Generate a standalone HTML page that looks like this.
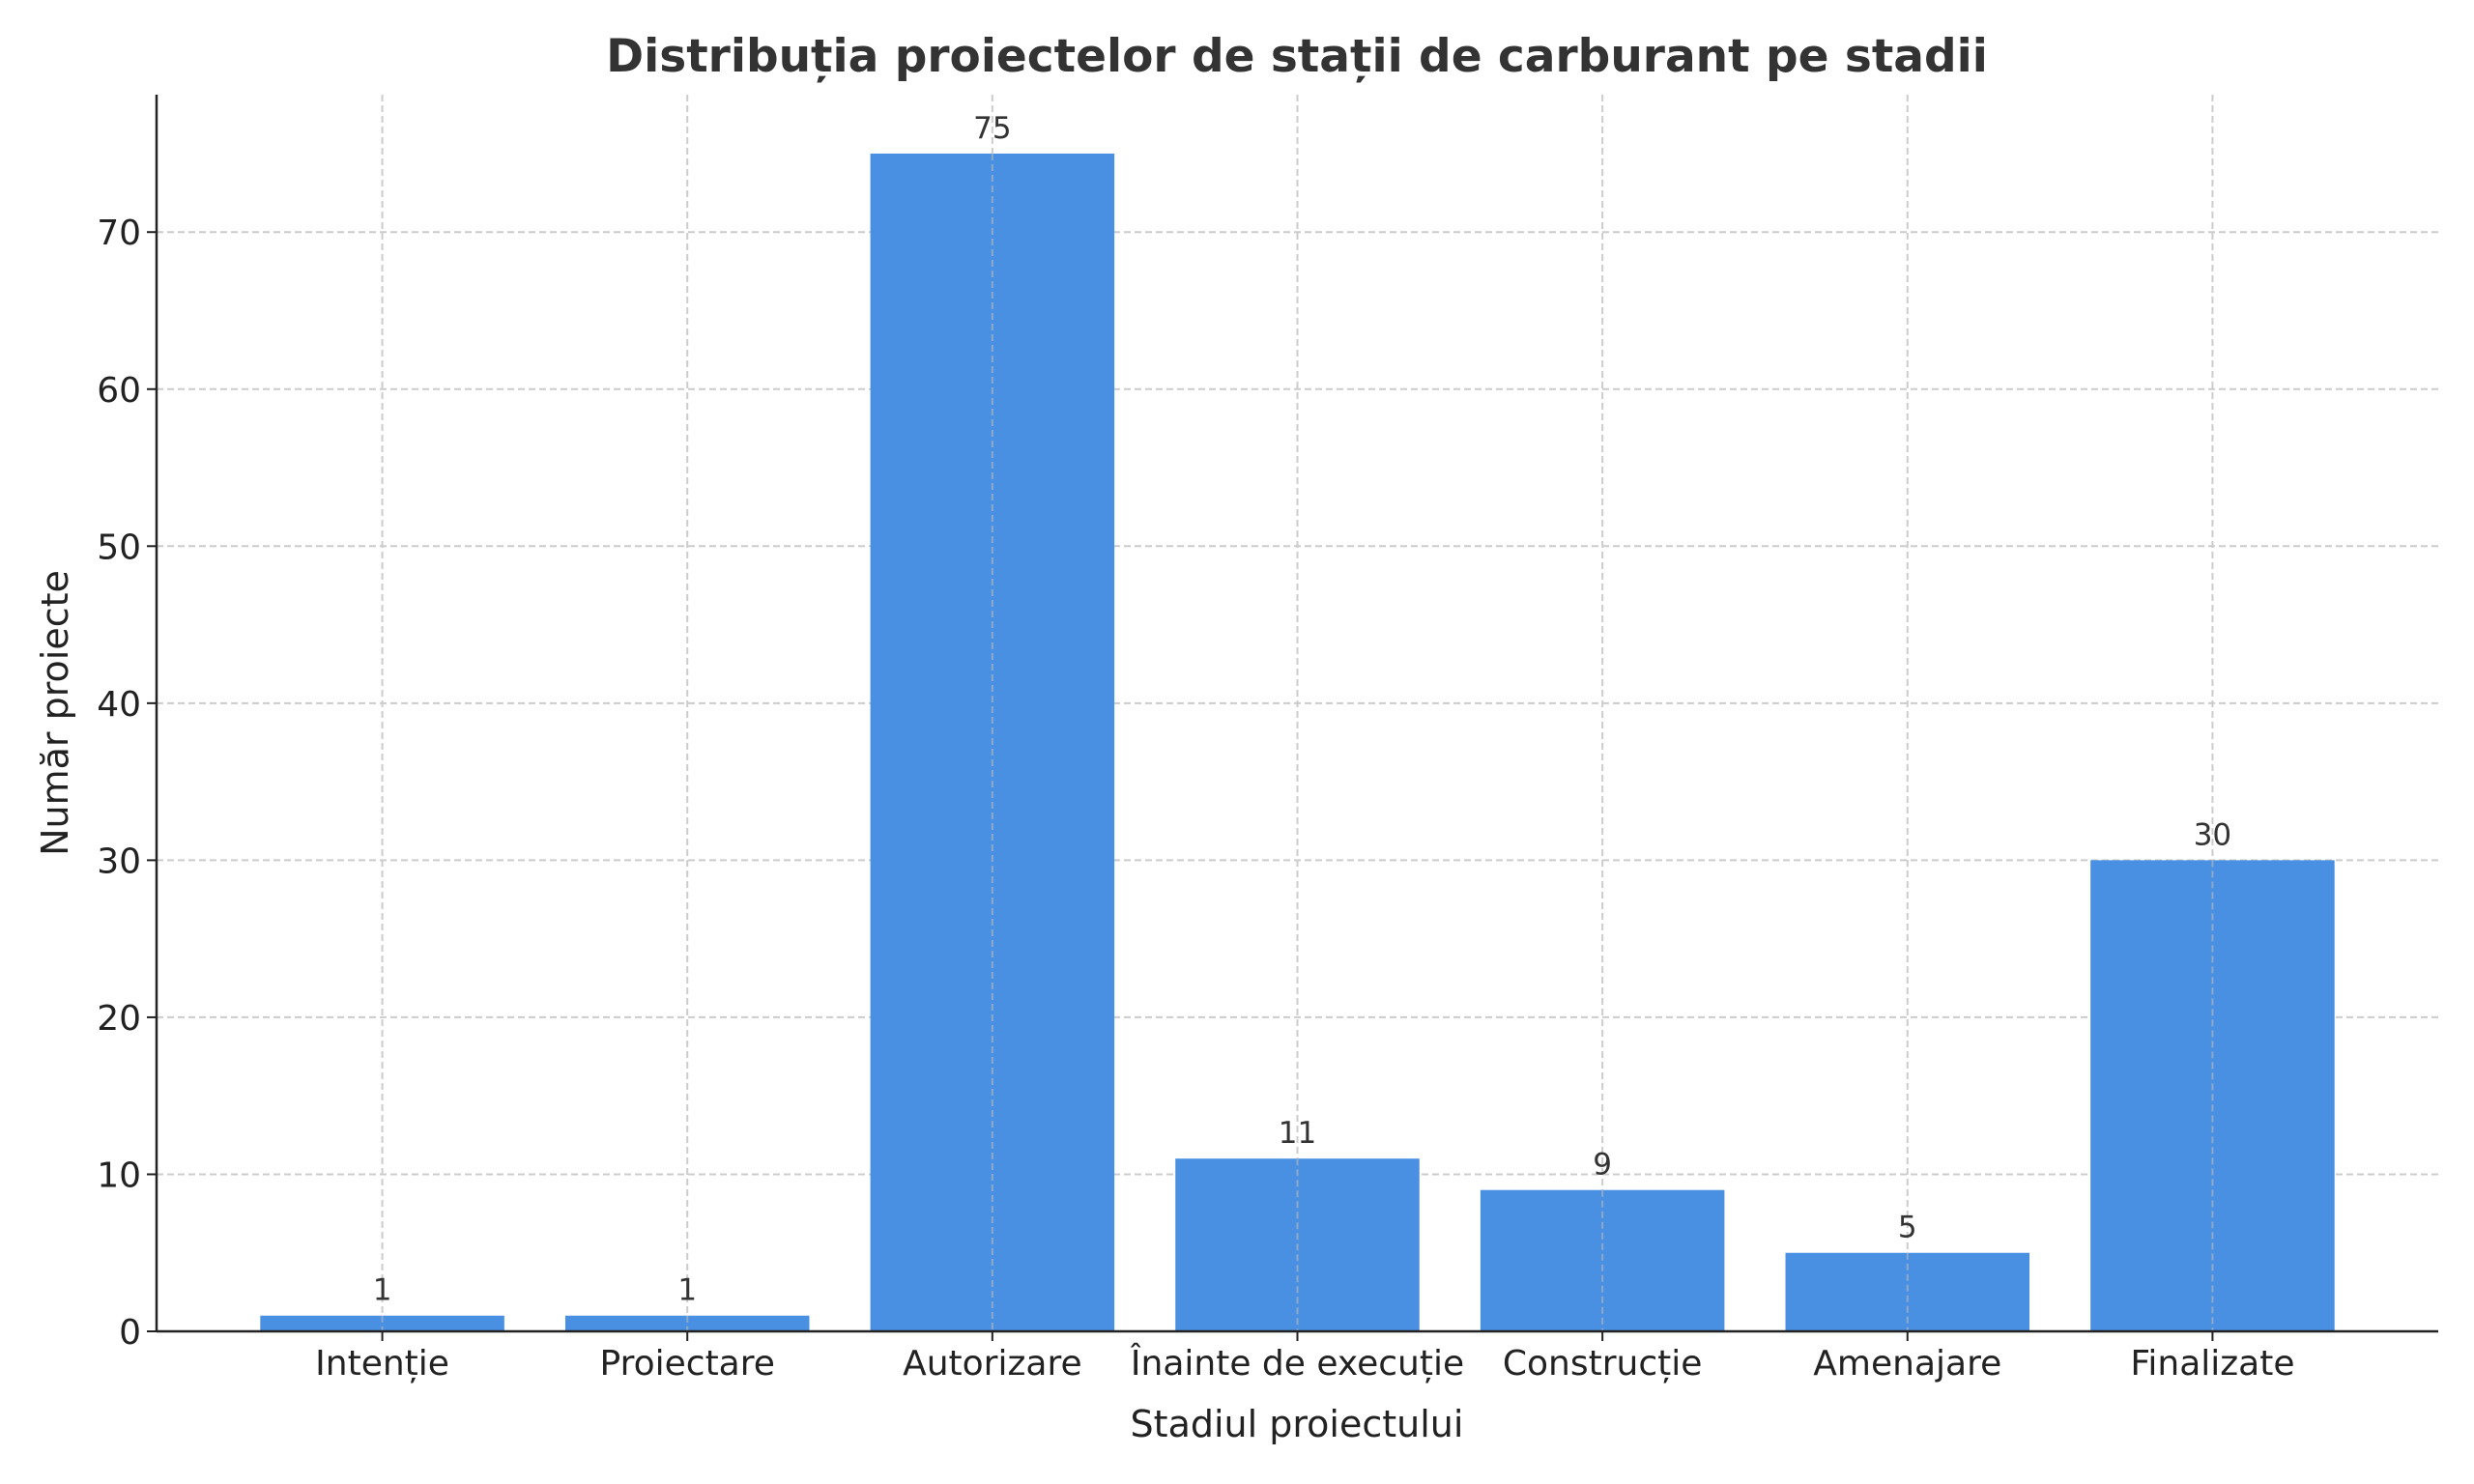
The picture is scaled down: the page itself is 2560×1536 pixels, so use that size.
<!DOCTYPE html>
<html><head><meta charset="utf-8"><style>
body{margin:0;background:#fff}
svg{display:block;font-family:"DejaVu Sans","Liberation Sans",sans-serif}
</style></head><body>
<svg id="chart" width="2560" height="1536" viewBox="0 0 2560 1536">
<text x="1342" y="74" text-anchor="middle" font-size="47" font-weight="bold" fill="#333">Distribuția proiectelor de stații de carburant pe stadii</text>
<g id="grid"></g><g id="bars"></g><g id="axes"></g>
<text x="1342" y="1487" text-anchor="middle" font-size="38" fill="#222">Stadiul proiectului</text>
<text transform="translate(70,738) rotate(-90)" text-anchor="middle" font-size="38" fill="#222">Număr proiecte</text>
</svg>
<script>
const categories=["Intenție","Proiectare","Autorizare","Înainte de execuție","Construcție","Amenajare","Finalizate"];
const values=[1,1,75,11,9,5,30];
const yTicks=[0,10,20,30,40,50,60,70];
const NS="http://www.w3.org/2000/svg";
const L=162,R=2523,T=98,B=1378;
const xMin=-0.74,xMax=categories.length-0.26;
const yMax=Math.max(...values)*1.05;
const x=i=>L+(i-xMin)/(xMax-xMin)*(R-L);
const y=v=>B-v/yMax*(B-T);
const bw=0.8*(x(1)-x(0));
function mk(t,a,p){const e=document.createElementNS(NS,t);for(const k in a)e.setAttribute(k,a[k]);p.appendChild(e);return e;}
const g=document.getElementById('grid'),b=document.getElementById('bars'),ax=document.getElementById('axes');
yTicks.forEach(v=>{
 const l=mk('line',{x1:L,x2:R,y1:y(v),y2:y(v),stroke:'#ccc','stroke-width':2,'stroke-dasharray':'7,4'},g);
 
 
 const tk=mk('line',{x1:L-10,x2:L,y1:y(v),y2:y(v),stroke:'#222','stroke-width':2},ax);
 
 
 const t=mk('text',{x:L-16,y:y(v)+13,'text-anchor':'end','font-size':36,fill:'#222'},ax);
 t.textContent=v;
 
 
});
categories.forEach((c,i)=>{
 const cx=x(i);
 const gl=mk('line',{x1:cx,x2:cx,y1:T,y2:B,stroke:'#ccc','stroke-width':2,'stroke-dasharray':'7,4'},g);
 
 
 const r=mk('rect',{x:cx-bw/2,y:y(values[i]),width:bw,height:B-y(values[i]),fill:'#4a90e2'},b);
 
 
 const gl2=mk('line',{x1:cx,x2:cx,y1:y(values[i]),y2:B,stroke:'#bbb','stroke-width':2,'stroke-dasharray':'7,4','stroke-opacity':0.6},b);
 
 
 const vl=mk('text',{x:cx,y:y(values[i])-16,'text-anchor':'middle','font-size':31,fill:'#333'},b);
 vl.textContent=values[i];
 
 
 const tk=mk('line',{x1:cx,x2:cx,y1:B,y2:B+10,stroke:'#222','stroke-width':2},ax);
 
 
 const t=mk('text',{x:cx,y:B+45,'text-anchor':'middle','font-size':36,fill:'#222'},ax);
 t.textContent=c;
 
 
});
const la=mk('line',{x1:L,x2:L,y1:T,y2:B,stroke:'#222','stroke-width':2.5},ax);


const ba=mk('line',{x1:L,x2:R,y1:B,y2:B,stroke:'#222','stroke-width':2.5},ax);


</script>
</body></html>
